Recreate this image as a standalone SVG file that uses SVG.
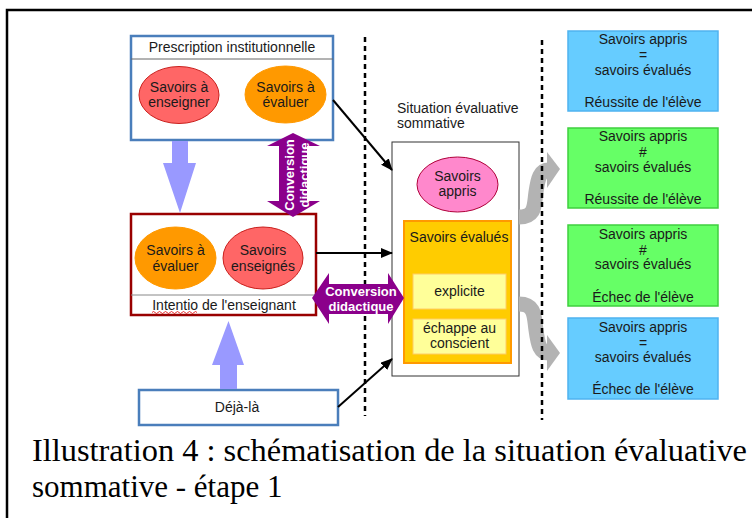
<svg xmlns="http://www.w3.org/2000/svg" width="752" height="518" viewBox="0 0 752 518">
<defs>
<style>
.t{font-family:"Liberation Sans",Arial,sans-serif;font-size:14px;fill:#1a1a1a;text-anchor:middle}
.tl{font-family:"Liberation Sans",Arial,sans-serif;font-size:14px;fill:#1a1a1a}
.w{font-family:"Liberation Sans",Arial,sans-serif;font-size:13px;font-weight:bold;fill:#fff;text-anchor:middle}
.cap{font-family:"Liberation Serif","Times New Roman",serif;font-size:31px;fill:#000}
.bluebox{fill:#fff;stroke:#4a7ebb;stroke-width:2.5}
.redel{fill:#ff6666;stroke:#c9211e;stroke-width:1}
.orel{fill:#ff9900;stroke:#ff9900;stroke-width:1}
.pk{fill:#ff88cc;stroke:#b0003a;stroke-width:1}
.res-b{fill:#66ccff;stroke:#4fb3f0;stroke-width:1.5}
.res-g{fill:#66ff66;stroke:#3fcf3f;stroke-width:1.5}
.conn{stroke:#000;stroke-width:2;fill:none}
.dash{stroke:#000;stroke-width:2.5;stroke-dasharray:5 4;fill:none}
.gray{stroke:#b3b3b3;stroke-width:15;fill:none}
.bigarrow{fill:#9999ff}
.purple{fill:#8b008b}
</style>
<marker id="ah" viewBox="0 0 12 10" refX="11" refY="5" markerWidth="12" markerHeight="10" markerUnits="userSpaceOnUse" orient="auto">
<path d="M0,0 L12,5 L0,10 Z" fill="#000"/>
</marker>
</defs>
<rect width="752" height="518" fill="#fff"/>
<!-- frame -->
<path d="M7,518 V10 H752" fill="none" stroke="#000" stroke-width="2.5"/>

<g id="prescription">
<rect class="bluebox" x="131" y="36" width="202" height="104"/>
<line x1="131" y1="59" x2="333" y2="59" stroke="#666" stroke-width="1"/>
<text class="t" x="232" y="52">Prescription institutionnelle</text>
<ellipse class="redel" cx="179" cy="95" rx="40" ry="28.5"/>
<text class="t" x="179" y="92">Savoirs à</text>
<text class="t" x="179" y="107">enseigner</text>
<ellipse class="orel" cx="285.5" cy="94.5" rx="40.5" ry="28.5"/>
<text class="t" x="285.5" y="92">Savoirs à</text>
<text class="t" x="285.5" y="107">évaluer</text>
</g>

<g id="intention">
<rect x="131" y="214" width="185" height="101" fill="#fff" stroke="#990000" stroke-width="2.5"/>
<line x1="131" y1="295" x2="316" y2="295" stroke="#888" stroke-width="1"/>
<text class="t" x="224" y="310">Intentio de l'enseignant</text>
<path d="M152,312.5 q1.5,-2 3,0 t3,0 t3,0 t3,0 t3,0 t3,0 t3,0 t3,0 t3,0 t3,0 t3,0 t3,0 t3,0 t3,0 t3,0" fill="none" stroke="#e00000" stroke-width="0.8"/>
<ellipse class="orel" cx="175.5" cy="258" rx="40.5" ry="31"/>
<text class="t" x="175.5" y="255">Savoirs à</text>
<text class="t" x="175.5" y="271">évaluer</text>
<ellipse class="redel" cx="263" cy="258" rx="40" ry="31"/>
<text class="t" x="263" y="255">Savoirs</text>
<text class="t" x="263" y="271">enseignés</text>
</g>

<g id="deja-la">
<rect class="bluebox" x="139" y="390" width="199" height="35"/>
<text class="t" x="237" y="412">Déjà-là</text>
</g>

<g id="situation">
<text class="tl" x="397" y="113">Situation évaluative</text>
<text class="tl" x="397" y="128">sommative</text>
<rect x="392" y="142" width="127" height="234" fill="#fff" stroke="#333" stroke-width="1"/>
<ellipse class="pk" cx="457.5" cy="184.5" rx="40.5" ry="27.5"/>
<text class="t" x="457.5" y="181">Savoirs</text>
<text class="t" x="457.5" y="196">appris</text>
<rect x="404" y="221" width="107" height="142" fill="#ffcc00" stroke="#ff9900" stroke-width="2"/>
<text class="t" x="459" y="242">Savoirs évalués</text>
<rect x="413" y="274" width="93" height="35" fill="#ffff99" stroke="#ffcc66" stroke-width="1"/>
<text class="t" x="459.5" y="296">explicite</text>
<rect x="413" y="319" width="93" height="35" fill="#ffff99" stroke="#ffcc66" stroke-width="1"/>
<text class="t" x="459.5" y="333">échappe au</text>
<text class="t" x="459.5" y="348">conscient</text>
</g>

<g id="res1">
<rect class="res-b" x="568" y="31" width="150" height="80"/>
<text class="t" x="643" y="44">Savoirs appris</text>
<text class="t" x="643" y="59.5">=</text>
<text class="t" x="643" y="75">savoirs évalués</text>
<text class="t" x="643" y="107">Réussite de l'élève</text>
</g>
<g id="res2">
<rect class="res-g" x="568" y="128" width="150" height="80"/>
<text class="t" x="643" y="141">Savoirs appris</text>
<text class="t" x="643" y="156.5">#</text>
<text class="t" x="643" y="172">savoirs évalués</text>
<text class="t" x="643" y="204">Réussite de l'élève</text>
</g>
<g id="res3">
<rect class="res-g" x="568" y="225" width="150" height="81"/>
<text class="t" x="643" y="239">Savoirs appris</text>
<text class="t" x="643" y="254.5">#</text>
<text class="t" x="643" y="269">savoirs évalués</text>
<text class="t" x="643" y="302">Échec de l'élève</text>
</g>
<g id="res4">
<rect class="res-b" x="568" y="318" width="150" height="81"/>
<text class="t" x="643" y="332">Savoirs appris</text>
<text class="t" x="643" y="347.5">=</text>
<text class="t" x="643" y="362">savoirs évalués</text>
<text class="t" x="643" y="394">Échec de l'élève</text>
</g>

<g id="connectors">
<!-- blue block arrows -->
<polygon class="bigarrow" points="172,141 188,141 188,163 196,163 180,213 163,163 172,163"/>
<polygon class="bigarrow" points="220,389 237,389 237,365 244,365 228.5,321 212,365 220,365"/>
<!-- black arrows -->
<line class="conn" x1="333" y1="100" x2="392" y2="170" marker-end="url(#ah)"/>
<line class="conn" x1="316" y1="253" x2="392" y2="253" marker-end="url(#ah)"/>
<line class="conn" x1="338" y1="407" x2="392" y2="359" marker-end="url(#ah)"/>
<!-- gray curved arrows -->
<path class="gray" d="M519,217 C536,217 534,205 536,192 C538,178 540,170 549,170"/>
<polygon points="547,152 560,169 547,188" fill="#b3b3b3"/>
<path class="gray" d="M519,304 C536,304 534,318 536,330 C538,345 540,353 549,353"/>
<polygon points="547,335 560,353 547,371" fill="#b3b3b3"/>
<!-- dashed separators -->
<line class="dash" x1="365" y1="37" x2="365" y2="416"/>
<line class="dash" x1="542" y1="40" x2="542" y2="420"/>
<!-- purple vertical double arrow -->
<polygon class="purple" points="293,133 320,146 307,146 307,201 320,201 293,217 267,201 279,201 279,146 267,146"/>
<text class="w" transform="translate(294,175) rotate(-90)">Conversion</text>
<text class="w" transform="translate(309,175) rotate(-90)">didactique</text>
<!-- purple horizontal double arrow -->
<polygon class="purple" points="312,298 329,273 329,284 388,284 388,273 404,298 388,324 388,314 329,314 329,324"/>
<text class="w" x="361" y="296">Conversion</text>
<text class="w" x="361" y="311">didactique</text>
</g>

<text class="cap" x="32" y="461" textLength="715" lengthAdjust="spacingAndGlyphs">Illustration 4 : schématisation de la situation évaluative</text>
<text class="cap" x="32" y="497">sommative - étape 1</text>
</svg>
